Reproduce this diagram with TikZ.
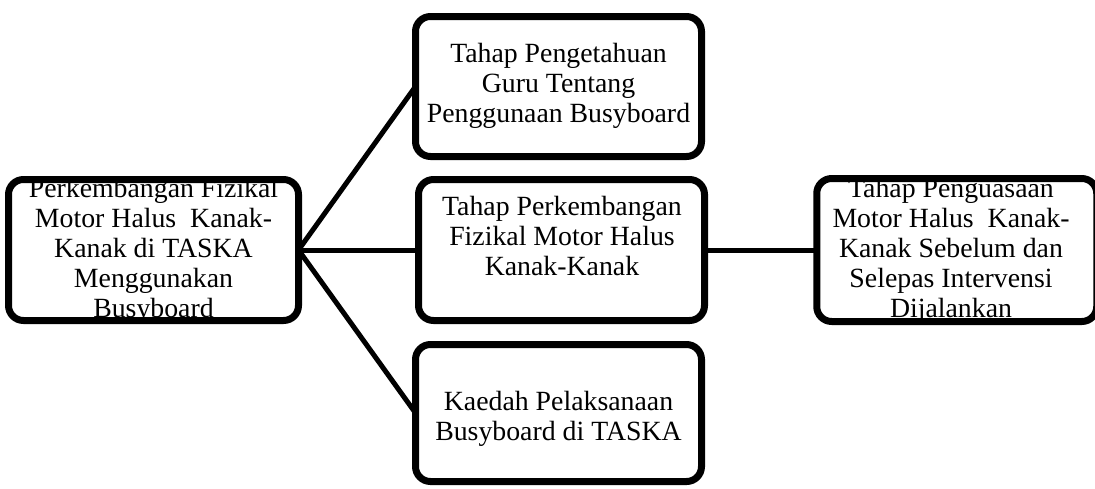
\documentclass[tikz,border=0pt]{standalone}
\usepackage{fontspec}
\setmainfont{Liberation Serif}
\usetikzlibrary{shadows}
\begin{document}
\begin{tikzpicture}[x=1pt,y=1pt,
  box/.style={draw=black, line width=7pt, rounded corners=15pt, fill=white,
    inner sep=0pt, outer sep=0pt,
    drop shadow={shadow xshift=2pt, shadow yshift=-3pt, opacity=0.22, fill=black!60}},
  lbl/.style={align=center, inner sep=0pt, anchor=base,
    font=\fontsize{27.8pt}{29.8pt}\selectfont},
  conn/.style={line width=5pt}]
\useasboundingbox (0,0) rectangle (1095,-488);
% boxes
\node[box, minimum width=290pt, minimum height=141pt] (L) at (153.5,-250) {};
\node[box, minimum width=286pt, minimum height=140pt] (T) at (558.5,-86.5) {};
\node[box, minimum width=286pt, minimum height=141pt] (M) at (561.5,-250) {};
\node[box, minimum width=286pt, minimum height=137pt] (B) at (558.5,-413) {};
\node[box, minimum width=280pt, minimum height=143pt] (R) at (956.75,-250) {};
% labels (anchored at the baseline of the last line)
\node[lbl] (Lt) at (153.5,-317) {Perkembangan Fizikal\\Motor Halus\ \ Kanak-\\Kanak di TASKA\\Menggunakan\\Busyboard};
\node[lbl] (Tt) at (558.5,-122) {Tahap Pengetahuan\\Guru Tentang\\Penggunaan Busyboard};
\node[lbl] (Mt) at (562,-275) {Tahap Perkembangan\\Fizikal Motor Halus\\Kanak-Kanak};
\node[lbl] (Bt) at (558.5,-440) {Kaedah Pelaksanaan\\Busyboard di TASKA};
\node[lbl] (Rt) at (951,-317) {Tahap Penguasaan\\Motor Halus\ \ Kanak-\\Kanak Sebelum dan\\Selepas Intervensi\\Dijalankan};
% connectors
\draw[conn] (L.east) -- (T.west);
\draw[conn] (L.east) -- (M.west);
\draw[conn] (L.east) -- (B.west);
\draw[conn] (M.east) -- (R.west);
\end{tikzpicture}
\end{document}
